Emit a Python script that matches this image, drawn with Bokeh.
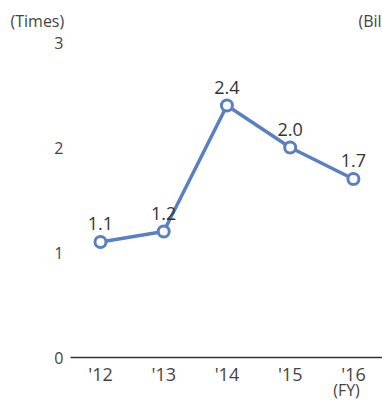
from bokeh.plotting import figure
from bokeh.models import Range1d, FixedTicker, Label, ColumnDataSource
from bokeh.core.properties import value
from bokeh.embed import file_html
from bokeh.resources import INLINE

years = ["'12", "'13", "'14", "'15", "'16"]
ratio = [1.1, 1.2, 2.4, 2.0, 1.7]
ratio_labels = ["1.1", "1.2", "2.4", "2.0", "1.7"]
y_ticks = [0, 1, 2, 3]

FONT = "Open Sans"
BLUE = "#5a80c3"

xs = list(range(len(years)))
src = ColumnDataSource(dict(x=xs, y=ratio, lab=ratio_labels))

p = figure(width=382, height=401, output_backend="svg", toolbar_location=None,
           x_range=Range1d(-0.474, 4.46), y_range=Range1d(0, 3),
           min_border_left=70, min_border_right=0, min_border_top=42, min_border_bottom=44)
p.outline_line_color = None
p.grid.grid_line_color = None
p.background_fill_color = "white"
p.border_fill_color = "white"

# x axis
xa = p.xaxis[0]
xa.ticker = FixedTicker(ticks=xs)
xa.major_label_overrides = {i: y for i, y in enumerate(years)}
xa.major_tick_line_color = None
xa.major_tick_out = 0
xa.major_tick_in = 0
xa.minor_tick_line_color = None
xa.axis_line_color = "#333333"
xa.axis_line_width = 1.5
xa.major_label_text_font = FONT
xa.major_label_text_font_size = "18px"
xa.major_label_text_color = "#444444"
xa.major_label_standoff = 4

# y axis
ya = p.yaxis[0]
ya.ticker = FixedTicker(ticks=y_ticks)
ya.axis_line_color = None
ya.major_tick_line_color = None
ya.major_tick_out = 0
ya.major_tick_in = 0
ya.minor_tick_line_color = None
ya.major_label_text_font = FONT
ya.major_label_text_font_size = "16px"
ya.major_label_text_color = "#444444"
ya.major_label_standoff = 7

p.line("x", "y", source=src, line_color=BLUE, line_width=3.5)
p.scatter("x", "y", source=src, size=11, fill_color="white", line_color=BLUE, line_width=3)
p.text("x", "y", text="lab", source=src, y_offset=-12, text_align="center",
       text_baseline="bottom", text_font=value(FONT), text_font_size="18px",
       text_color="#333333")

p.add_layout(Label(x=-60, y=22, x_units="screen", y_units="screen", text="(Times)",
                   text_font=FONT, text_font_size="16px", text_color="#444444",
                   text_baseline="middle"), "above")
p.add_layout(Label(x=322, y=-32, x_units="screen", y_units="screen", text="(FY)",
                   text_font=FONT, text_font_size="16px", text_color="#444444",
                   text_baseline="middle", text_align="center"), "left")
p.add_layout(Label(x=357, y=337, x_units="screen", y_units="screen", text="(Bil",
                   text_font=FONT, text_font_size="16px", text_color="#444444",
                   text_baseline="middle"), "left")

open("out.html", "w").write(file_html(p, INLINE))
